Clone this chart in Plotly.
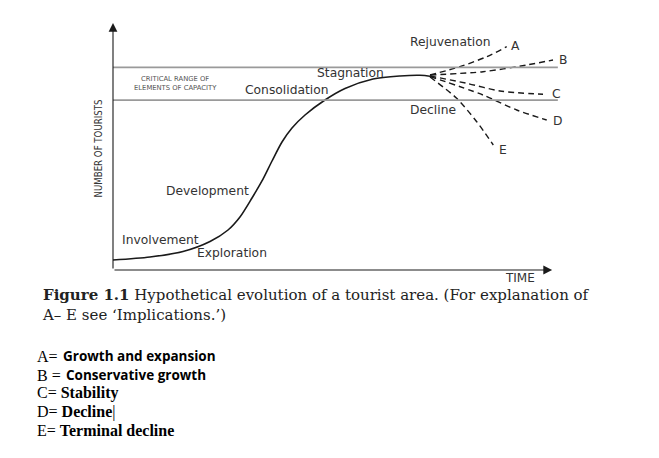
import plotly.graph_objects as go

W, H = 659, 458

# ---- data (abstract units: time 0..100, tourists 0..100) ----
curve_time = [0, 8.41, 15.91, 22.05, 26.14, 28.86, 31.59, 33.86, 36.14, 38.41, 40.68, 43.64,
              48.18, 52.73, 59.09, 65.23, 69.77, 72.50]
curve_tourists = [4.03, 5.24, 7.46, 11.49, 16.13, 21.37, 29.03, 35.89, 43.95, 51.61, 57.26, 62.50,
                  68.55, 73.19, 77.02, 78.23, 78.51, 78.02]

scenario_names = ["A", "B", "C", "D", "E"]
scenario_time = [
    [72.05, 78.86, 84.93, 89.48],
    [72.05, 84.09, 94.02, 100.0],
    [72.05, 80.39, 87.95, 97.73],
    [72.05, 84.09, 91.75, 98.57],
    [72.05, 78.11, 82.66, 86.43],
]
scenario_tourists = [
    [78.63, 81.98, 86.01, 90.04],
    [78.63, 79.96, 82.66, 84.68],
    [78.23, 75.28, 72.18, 70.85],
    [78.02, 70.56, 64.52, 60.48],
    [77.82, 69.23, 59.80, 50.40],
]
scenario_label_pos = [(91.4, 90.5), (102.3, 84.7), (100.9, 71.0), (101.1, 60.1), (88.6, 48.4)]

critical_range = [68.5, 81.7]
critical_x_end = 101.1

stage_labels = ["Exploration", "Involvement", "Development", "Consolidation", "Stagnation", "Decline", "Rejuvenation"]
stage_pos = [(27.0, 6.9), (10.9, 12.1), (21.4, 31.9), (39.5, 72.6), (53.9, 79.4), (72.7, 64.5), (76.6, 91.9)]

caption_lines = ["<b>Figure 1.1</b> Hypothetical evolution of a tourist area. (For explanation of",
                 "A– E see ‘Implications.’)"]
legend_keys = ["A=", "B =", "C=", "D=", "E="]
legend_desc = ["Growth and expansion", "Conservative growth", "Stability", "Decline", "Terminal decline"]

# ---- layout mapping ----
XR = [-2, 106]
YR = [-4, 102]
def px_x(v):
    return 113 + v * 4.4
def px_y(v):
    return 270 - v * 2.48

fig = go.Figure()

fig.add_trace(go.Scatter(x=curve_time, y=curve_tourists, mode="lines",
                         line=dict(color="#1a1a1a", width=1.6, shape="spline", smoothing=0.8),
                         hoverinfo="skip", showlegend=False))
for i, n in enumerate(scenario_names):
    fig.add_trace(go.Scatter(x=scenario_time[i], y=scenario_tourists[i], mode="lines",
                             line=dict(color="#1a1a1a", width=1.4, dash="6px,4px", shape="spline",
                                       smoothing=0.8),
                             hoverinfo="skip", showlegend=False))

shapes = []
for yv in critical_range:
    shapes.append(dict(type="line", xref="x", yref="y", x0=0, x1=critical_x_end, y0=yv, y1=yv,
                       line=dict(color="#9a9a9a", width=1.6)))

ann = []
# axes with arrows
ann.append(dict(x=0, y=99.6, ax=0, ay=0, xref="x", yref="y", axref="x", ayref="y", text="",
                showarrow=True, arrowhead=2, arrowsize=1.6, arrowwidth=1.1, arrowcolor="#1a1a1a"))
ann.append(dict(x=99.8, y=0, ax=0, ay=0, xref="x", yref="y", axref="x", ayref="y", text="",
                showarrow=True, arrowhead=2, arrowsize=1.6, arrowwidth=1.1, arrowcolor="#1a1a1a"))

lab_font = dict(family="DejaVu Sans", size=12.3, color="#333")
for t, (x, y) in zip(stage_labels, stage_pos):
    ann.append(dict(x=x, y=y, xref="x", yref="y", text=t, showarrow=False, font=lab_font,
                    xanchor="center", yanchor="middle"))
for n, (x, y) in zip(scenario_names, scenario_label_pos):
    ann.append(dict(x=x, y=y, xref="x", yref="y", text=n, showarrow=False, font=lab_font,
                    xanchor="center", yanchor="middle"))

ann.append(dict(x=14.3, y=75.2, xref="x", yref="y", text="CRITICAL RANGE OF<br>ELEMENTS OF CAPACITY",
                showarrow=False, font=dict(family="DejaVu Sans", size=6.8, color="#555"),
                align="center", xanchor="center", yanchor="middle"))
ann.append(dict(x=92.5, y=-3.2, xref="x", yref="y", text="TIME", showarrow=False,
                xanchor="center", yanchor="middle",
                font=dict(family="DejaVu Sans", size=12, color="#333")))
ann.append(dict(x=98 / W, y=1 - 148.5 / H, xref="paper", yref="paper", text="NUMBER OF TOURISTS",
                textangle=-90, showarrow=False, xanchor="center", yanchor="middle",
                font=dict(family="DejaVu Sans Condensed, DejaVu Sans", size=9.6, color="#333")))

# caption (one wrapped text block)
ann.append(dict(x=40 / W, y=1 - 304.5 / H, xref="paper", yref="paper", xanchor="left", yanchor="middle",
                align="left", text="<br>".join(caption_lines), showarrow=False,
                font=dict(family="DejaVu Serif", size=15, color="#222")))

# notes below the figure
leg_y = [356, 375, 393, 412, 430]
desc_x = [61, 64]
for i, (k, d, yy) in enumerate(zip(legend_keys, legend_desc, leg_y)):
    if i < 2:
        ann.append(dict(x=35 / W, y=1 - yy / H, xref="paper", yref="paper", xanchor="left",
                        yanchor="middle", text=k, showarrow=False,
                        font=dict(family="Liberation Serif, Times New Roman", size=16, color="#000")))
        ann.append(dict(x=desc_x[i] / W, y=1 - yy / H, xref="paper", yref="paper", xanchor="left",
                        yanchor="middle", text=f"<b>{d}</b>", showarrow=False,
                        font=dict(family="Open Sans", size=13.5, color="#000")))
    else:
        txt = f"{k} <b>{d}</b>" + ("|" if d == "Decline" else "")
        ann.append(dict(x=35 / W, y=1 - yy / H, xref="paper", yref="paper", xanchor="left",
                        yanchor="middle", text=txt, showarrow=False,
                        font=dict(family="Liberation Serif, Times New Roman", size=16, color="#000")))

# compute domains so data map to pixel positions
xd = [px_x(XR[0]) / W, px_x(XR[1]) / W]
yd = [1 - px_y(YR[0]) / H, 1 - px_y(YR[1]) / H]

fig.update_layout(
    width=W, height=H, margin=dict(l=0, r=0, t=0, b=0),
    paper_bgcolor="white", plot_bgcolor="white",
    xaxis=dict(range=XR, domain=xd, visible=False),
    yaxis=dict(range=YR, domain=yd, visible=False),
    shapes=shapes, annotations=ann,
)

fig.write_html("out.html")
